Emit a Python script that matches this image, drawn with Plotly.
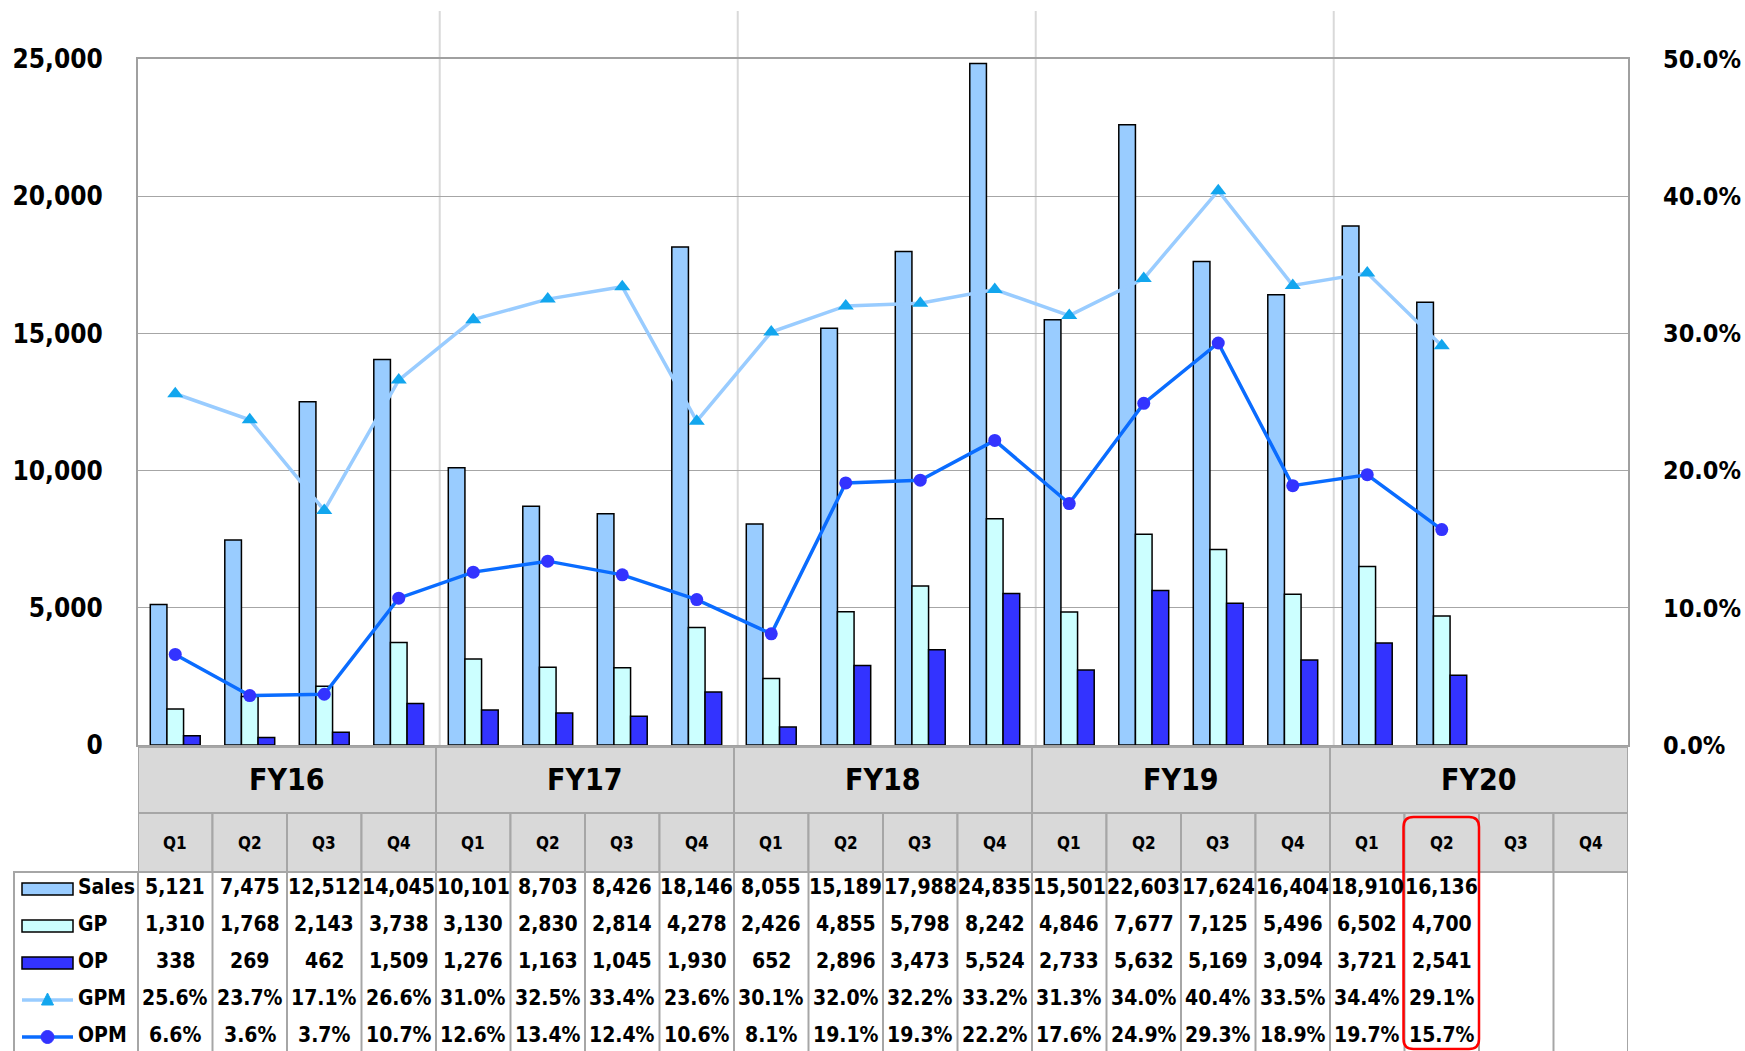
import plotly.graph_objects as go

# ---------------- data ----------------
fiscal_years = ["FY16", "FY17", "FY18", "FY19", "FY20"]
quarters = ["Q1", "Q2", "Q3", "Q4"]
row_labels = ["Sales", "GP", "OP", "GPM", "OPM"]

sales = [5121, 7475, 12512, 14045, 10101, 8703, 8426, 18146, 8055, 15189,
         17988, 24835, 15501, 22603, 17624, 16404, 18910, 16136]
gp = [1310, 1768, 2143, 3738, 3130, 2830, 2814, 4278, 2426, 4855,
      5798, 8242, 4846, 7677, 7125, 5496, 6502, 4700]
op = [338, 269, 462, 1509, 1276, 1163, 1045, 1930, 652, 2896,
      3473, 5524, 2733, 5632, 5169, 3094, 3721, 2541]
gpm = [25.6, 23.7, 17.1, 26.6, 31.0, 32.5, 33.4, 23.6, 30.1, 32.0,
       32.2, 33.2, 31.3, 34.0, 40.4, 33.5, 34.4, 29.1]
opm = [6.6, 3.6, 3.7, 10.7, 12.6, 13.4, 12.4, 10.6, 8.1, 19.1,
       19.3, 22.2, 17.6, 24.9, 29.3, 18.9, 19.7, 15.7]
highlight_index = 17  # FY20 Q2

# ---------------- geometry / style ----------------
W, H = 1745, 1051
PLOT_L, PLOT_R, PLOT_T, PLOT_B = 138, 1628, 59, 745
FONT = "DejaVu Sans Condensed, DejaVu Sans"

C_SALES, C_GP, C_OP = "#99ccff", "#ccffff", "#3333ff"
C_GPM_LINE, C_GPM_MK = "#99ccff", "#12a6ee"
C_OPM_LINE, C_OPM_MK = "#0a6cff", "#3333ff"
HDR_FILL, BORDER = "#d9d9d9", "#a6a6a6"

n = len(fiscal_years) * len(quarters)
xs = list(range(n))


def pad(v):
    return v + [None] * (n - len(v))


def pxx(x):
    return x / W


def pxy(y):
    return 1 - y / H


col_w = (PLOT_R - PLOT_L) / n

fig = go.Figure()
bar_line = dict(color="black", width=1.5)
fig.add_bar(x=xs, y=pad(sales), marker=dict(color=C_SALES, line=bar_line), name="Sales")
fig.add_bar(x=xs, y=pad(gp), marker=dict(color=C_GP, line=bar_line), name="GP")
fig.add_bar(x=xs, y=pad(op), marker=dict(color=C_OP, line=bar_line), name="OP")
fig.add_scatter(x=xs, y=pad(gpm), yaxis="y2", mode="lines+markers", name="GPM",
                line=dict(color=C_GPM_LINE, width=3.5),
                marker=dict(symbol="triangle-up", size=14, color=C_GPM_MK))
fig.add_scatter(x=xs, y=pad(opm), yaxis="y2", mode="lines+markers", name="OPM",
                line=dict(color=C_OPM_LINE, width=3.5),
                marker=dict(symbol="circle", size=13, color=C_OPM_MK))

shapes = []
annotations = []

# FY separators in the plot
for k in range(1, len(fiscal_years)):
    xb = k * len(quarters) - 0.5 + 0.05
    shapes.append(dict(type="line", xref="x", yref="paper", x0=xb, x1=xb,
                       y0=pxy(PLOT_B), y1=pxy(11), layer="below",
                       line=dict(color="#d9d9d9", width=2)))

# ---------------- table ----------------
FY_T, FY_B = 747, 813
Q_B = 872
ROW_H = 37
row_centers = [887 + ROW_H * r for r in range(len(row_labels))]
TABLE_BOTTOM = 1060

for k, fy in enumerate(fiscal_years):
    x0 = k * len(quarters) - 0.5
    x1 = x0 + len(quarters)
    shapes.append(dict(type="rect", xref="x", yref="paper", x0=x0, x1=x1,
                       y0=pxy(FY_B), y1=pxy(FY_T), fillcolor=HDR_FILL,
                       line=dict(color=BORDER, width=2)))
    annotations.append(dict(xref="x", yref="paper", x=(x0 + x1) / 2, y=pxy((FY_T + FY_B) / 2 - 1),
                            text=f"<b>{fy}</b>", showarrow=False, xanchor="center", yanchor="middle",
                            font=dict(family=FONT, size=30, color="black")))
    for j, q in enumerate(quarters):
        i = k * len(quarters) + j
        shapes.append(dict(type="rect", xref="x", yref="paper", x0=i - 0.5, x1=i + 0.5,
                           y0=pxy(Q_B), y1=pxy(FY_B), fillcolor=HDR_FILL,
                           line=dict(color=BORDER, width=2)))
        annotations.append(dict(xref="x", yref="paper", x=i, y=pxy((FY_B + Q_B) / 2),
                                text=f"<b>{q}</b>", showarrow=False, xanchor="center", yanchor="middle",
                                font=dict(family=FONT, size=17, color="black")))

# data cell vertical lines
for i in range(n + 1):
    shapes.append(dict(type="line", xref="x", yref="paper", x0=i - 0.5, x1=i - 0.5,
                       y0=pxy(TABLE_BOTTOM), y1=pxy(Q_B), line=dict(color=BORDER, width=2)))
# label column box
shapes.append(dict(type="rect", xref="paper", yref="paper", x0=pxx(14), x1=pxx(PLOT_L),
                   y0=pxy(TABLE_BOTTOM), y1=pxy(Q_B), line=dict(color=BORDER, width=2)))

# values
series = [sales, gp, op, gpm, opm]
fmts = ["{:,}", "{:,}", "{:,}", "{:.1f}%", "{:.1f}%"]
for r, (vals, fmt) in enumerate(zip(series, fmts)):
    for i, v in enumerate(vals):
        annotations.append(dict(xref="x", yref="paper", x=i, y=pxy(row_centers[r]),
                                text=f"<b>{fmt.format(v)}</b>", showarrow=False,
                                xanchor="center", yanchor="middle",
                                font=dict(family=FONT, size=21, color="black")))
    annotations.append(dict(xref="paper", yref="paper", x=pxx(76), y=pxy(row_centers[r]),
                            text=f"<b>{row_labels[r]}</b>", showarrow=False,
                            xanchor="left", yanchor="middle",
                            font=dict(family=FONT, size=21, color="black")))

# legend symbols
SYM_L, SYM_R = 22, 73
sym_c = (SYM_L + SYM_R) / 2
for r, col in enumerate([C_SALES, C_GP, C_OP]):
    yc = row_centers[r] + 2
    shapes.append(dict(type="rect", xref="paper", yref="paper", x0=pxx(SYM_L), x1=pxx(SYM_R),
                       y0=pxy(yc + 6), y1=pxy(yc - 6), fillcolor=col,
                       line=dict(color="black", width=1.5)))
for r, lc in [(3, C_GPM_LINE), (4, C_OPM_LINE)]:
    yc = row_centers[r] + 2
    shapes.append(dict(type="line", xref="paper", yref="paper", x0=pxx(SYM_L), x1=pxx(SYM_R),
                       y0=pxy(yc), y1=pxy(yc), line=dict(color=lc, width=3.5)))
yc = row_centers[3] + 2
tri = (f"M {pxx(sym_c - 6)} {pxy(yc + 5)} L {pxx(sym_c + 6)} {pxy(yc + 5)} "
       f"L {pxx(sym_c)} {pxy(yc - 7)} Z")
shapes.append(dict(type="path", xref="paper", yref="paper", path=tri,
                   fillcolor=C_GPM_MK, line=dict(color=C_GPM_MK, width=1)))
yc = row_centers[4] + 2
shapes.append(dict(type="circle", xref="paper", yref="paper", x0=pxx(sym_c - 6.5), x1=pxx(sym_c + 6.5),
                   y0=pxy(yc + 6.5), y1=pxy(yc - 6.5), fillcolor=C_OPM_MK,
                   line=dict(color=C_OPM_MK, width=1)))

# red highlight rounded rectangle
hx0 = PLOT_L + highlight_index * col_w - 1
hx1 = PLOT_L + (highlight_index + 1) * col_w
hy0, hy1, rr = 817, 1049, 10
pts = [("M", hx0 + rr, hy0), ("L", hx1 - rr, hy0), ("Q", hx1, hy0, hx1, hy0 + rr),
       ("L", hx1, hy1 - rr), ("Q", hx1, hy1, hx1 - rr, hy1), ("L", hx0 + rr, hy1),
       ("Q", hx0, hy1, hx0, hy1 - rr), ("L", hx0, hy0 + rr), ("Q", hx0, hy0, hx0 + rr, hy0)]
path = ""
for p in pts:
    cmd = p[0]
    coords = p[1:]
    segs = []
    for a in range(0, len(coords), 2):
        segs.append(f"{pxx(coords[a])} {pxy(coords[a + 1])}")
    path += cmd + " " + " ".join(segs) + " "
path += "Z"
shapes.append(dict(type="path", xref="paper", yref="paper", path=path,
                   line=dict(color="#ff0000", width=2.5)))

tickfont_l = dict(family=FONT, size=26, color="black", weight="bold")
tickfont_r = dict(family=FONT, size=25, color="black", weight="bold")
fig.update_layout(
    width=W, height=H, autosize=False,
    margin=dict(l=0, r=0, t=0, b=0, pad=0),
    paper_bgcolor="white", plot_bgcolor="white",
    showlegend=False,
    barmode="group", bargap=0.33, bargroupgap=0,
    xaxis=dict(domain=[PLOT_L / W, PLOT_R / W], range=[-0.5, n - 0.5], automargin=False,
               showticklabels=False, ticks="", showgrid=False, zeroline=False,
               showline=True, linecolor="#a0a0a0", linewidth=2, mirror=True),
    yaxis=dict(domain=[1 - PLOT_B / H, 1 - PLOT_T / H], range=[0, 25000], dtick=5000,
               automargin=False,
               tickformat=",d", showgrid=True, gridcolor="#a6a6a6", gridwidth=1,
               zeroline=False, showline=True, linecolor="#a0a0a0", linewidth=2, mirror=True,
               ticks="", tickfont=tickfont_l, ticklabelstandoff=28),
    yaxis2=dict(overlaying="y", side="right", range=[0, 50], dtick=10, automargin=False,
                tickformat=".1f", ticksuffix="%", showgrid=False, zeroline=False,
                showline=False, ticks="", tickfont=tickfont_r, ticklabelstandoff=34),
    shapes=shapes,
    annotations=annotations,
)

fig.write_html("out.html", config={"displayModeBar": False},
               post_script="document.body.style.margin='0';document.body.style.overflow='hidden';")
